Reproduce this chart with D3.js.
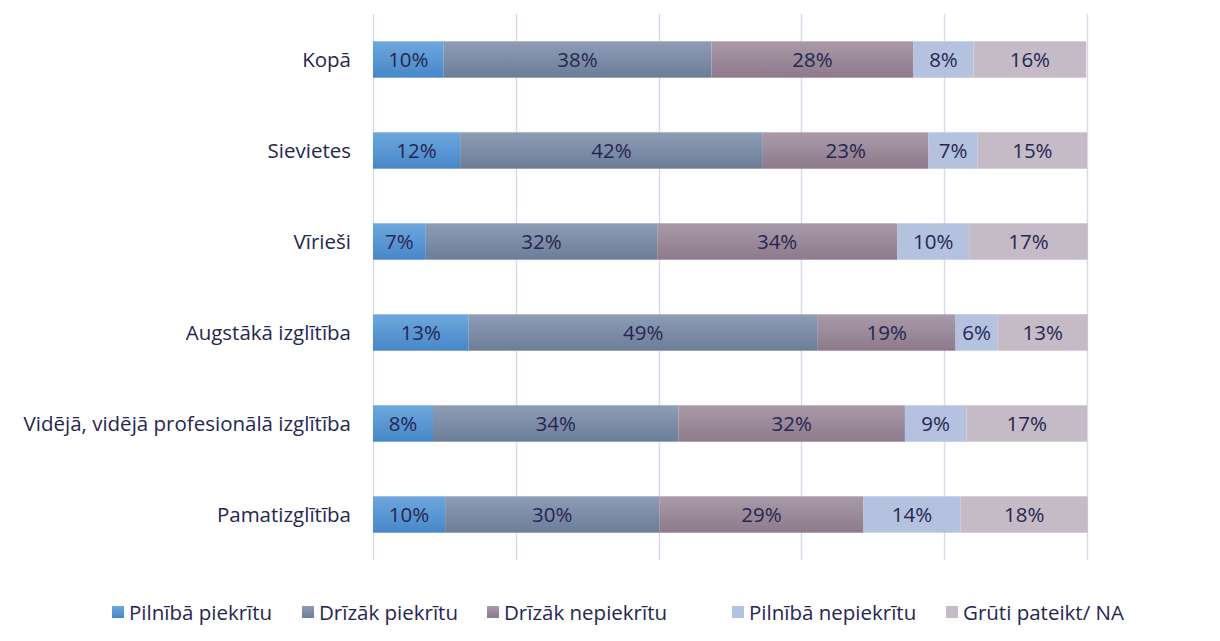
<!DOCTYPE html>
<html lang="lv">
  <head>
    <meta charset="UTF-8" />
    <title>Stacked bar chart</title>
    <script src="https://d3js.org/d3.v7.min.js"></script>
    <style>
      html,
      body {
        margin: 0;
        padding: 0;
        background-color: #ffffff;
        font-family: "Open Sans", sans-serif;
      }
      .label {
        fill: #262650;
        font-size: 20.5px;
      }
    </style>
  </head>
  <body>
    <svg id="chart"></svg>
    <script>
      // categories (top to bottom)
      const categories = [
        "Kopā",
        "Sievietes",
        "Vīrieši",
        "Augstākā izglītība",
        "Vidējā, vidējā profesionālā izglītība",
        "Pamatizglītība",
      ];
      const seriesNames = [
        "Pilnībā piekrītu",
        "Drīzāk piekrītu",
        "Drīzāk nepiekrītu",
        "Pilnībā nepiekrītu",
        "Grūti pateikt/ NA",
      ];
      // values in %, one per category
      const pilnibaPiekritu = [9.9, 12.2, 7.4, 13.4, 8.4, 10.1];
      const drizakPiekritu = [37.5, 42.4, 32.4, 48.9, 34.4, 30.0];
      const drizakNepiekritu = [28.3, 23.2, 33.6, 19.3, 31.7, 28.6];
      const pilnibaNepiekritu = [8.4, 6.9, 10.1, 5.9, 8.6, 13.6];
      const grutiPateikt = [15.8, 15.3, 16.6, 12.6, 16.9, 17.8];
      const xTicks = [0, 20, 40, 60, 80, 100];

      const seriesValues = [
        pilnibaPiekritu,
        drizakPiekritu,
        drizakNepiekritu,
        pilnibaNepiekritu,
        grutiPateikt,
      ];
      const colors = [
        ["#6da7dc", "#4787c9"],
        ["#8e9db6", "#6c7d98"],
        ["#a99aa9", "#8d7a8c"],
        ["#b4c2e0", "#b4c2e0"],
        ["#c5bbc6", "#c5bbc6"],
      ];

      const width = 1220;
      const height = 641;

      const svg = d3
        .select("#chart")
        .attr("width", width)
        .attr("height", height);

      const defs = svg.append("defs");
      colors.forEach((c, i) => {
        const g = defs
          .append("linearGradient")
          .attr("id", "grad" + i)
          .attr("x1", 0)
          .attr("y1", 0)
          .attr("x2", 0)
          .attr("y2", 1);
        g.append("stop").attr("offset", "0%").attr("stop-color", c[0]);
        g.append("stop").attr("offset", "100%").attr("stop-color", c[1]);
      });

      const x = d3.scaleLinear().domain([0, 100]).range([373, 1087]);
      const y = d3
        .scaleBand()
        .domain(categories)
        .range([14, 560])
        .paddingInner(0.6)
        .paddingOuter(0.3);

      // gridlines
      svg
        .append("g")
        .selectAll("line")
        .data(xTicks)
        .enter()
        .append("line")
        .attr("x1", (d) => Math.round(x(d)) + 0.5)
        .attr("x2", (d) => Math.round(x(d)) + 0.5)
        .attr("y1", 14)
        .attr("y2", 560)
        .attr("stroke", "#d9d9ee")
        .attr("stroke-width", 1.5);

      // stack
      const rows = categories.map((c, i) => {
        const r = { cat: c };
        seriesNames.forEach((s, j) => (r[s] = seriesValues[j][i]));
        return r;
      });
      const stacked = d3.stack().keys(seriesNames)(rows);

      const layers = svg
        .append("g")
        .selectAll("g")
        .data(stacked)
        .enter()
        .append("g")
        .attr("fill", (d, i) => `url(#grad${i})`);

      layers
        .selectAll("rect")
        .data((d) => d)
        .enter()
        .append("rect")
        .attr("x", (d) => x(d[0]))
        .attr("y", (d) => y(d.data.cat))
        .attr("width", (d) => x(d[1]) - x(d[0]))
        .attr("height", y.bandwidth());

      layers
        .selectAll("text")
        .data((d) => d)
        .enter()
        .append("text")
        .attr("class", "label")
        .attr("x", (d) => (x(d[0]) + x(d[1])) / 2)
        .attr("y", (d) => y(d.data.cat) + y.bandwidth() / 2)
        .attr("dy", "0.37em")
        .attr("text-anchor", "middle")
        .text((d) => Math.round(d[1] - d[0]) + "%");

      // category labels
      svg
        .append("g")
        .selectAll("text")
        .data(categories)
        .enter()
        .append("text")
        .attr("class", "label")
        .attr("x", 351)
        .attr("y", (d) => y(d) + y.bandwidth() / 2)
        .attr("dy", "0.37em")
        .attr("text-anchor", "end")
        .text((d) => d);

      // legend
      const legendX = [112, 302, 487, 732, 946];
      const legend = svg
        .append("g")
        .selectAll("g")
        .data(seriesNames)
        .enter()
        .append("g")
        .attr("transform", (d, i) => `translate(${legendX[i]},606)`);
      legend
        .append("rect")
        .attr("width", 12)
        .attr("height", 12)
        .attr("fill", (d, i) => `url(#grad${i})`);
      legend
        .append("text")
        .attr("class", "label")
        .attr("x", 17)
        .attr("y", 6)
        .attr("dy", "0.37em")
        .text((d) => d);
    </script>
  </body>
</html>
